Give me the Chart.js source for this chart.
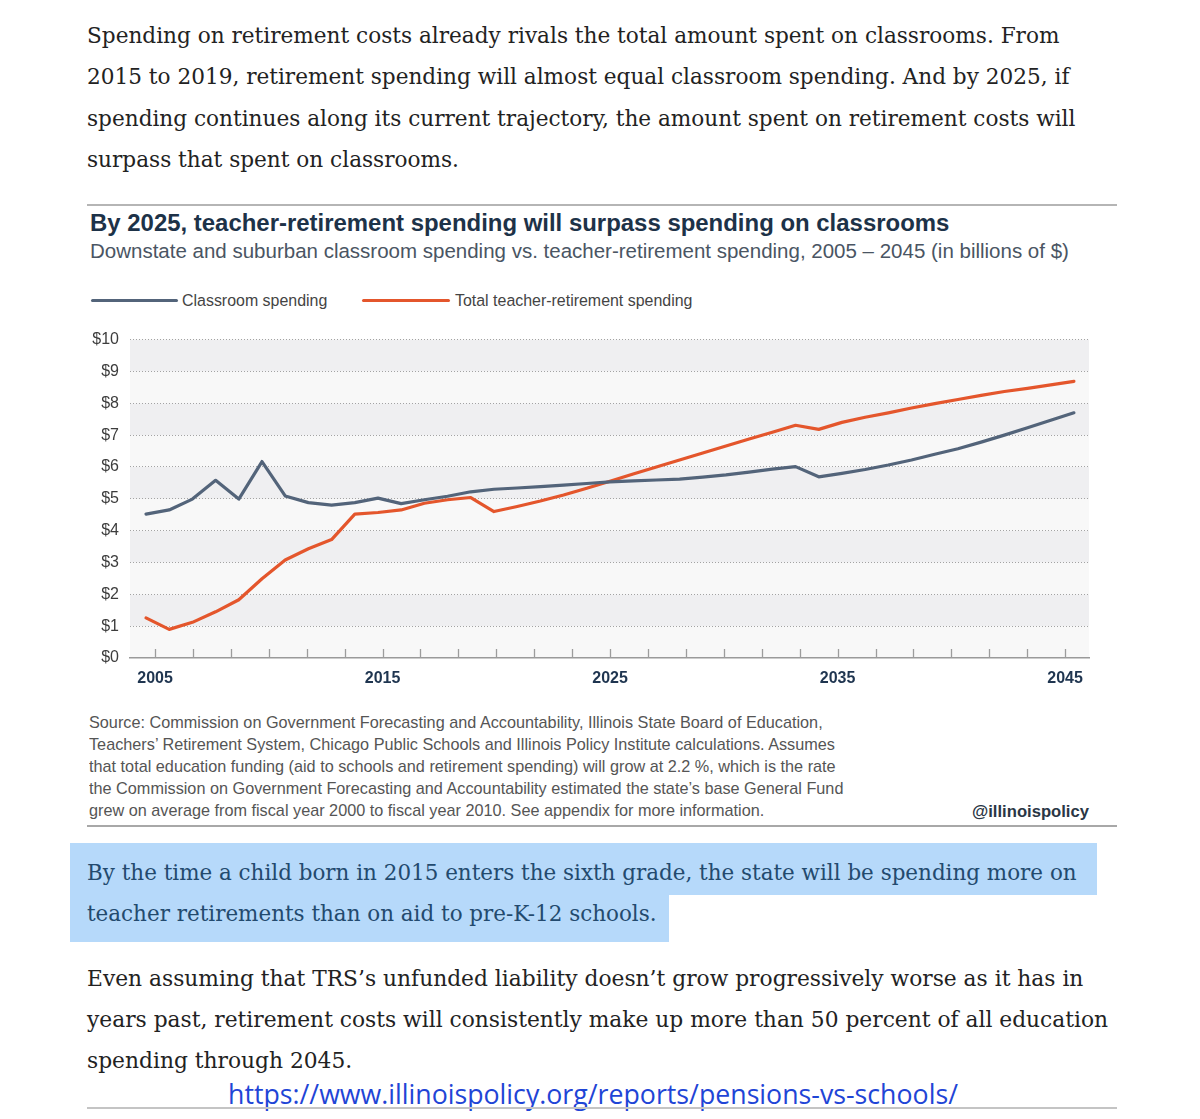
<!DOCTYPE html>
<html><head><meta charset="utf-8">
<script src="https://cdn.jsdelivr.net/npm/chart.js@4.4.0/dist/chart.umd.min.js"></script>
<style>
html,body{margin:0;padding:0;background:#fff;}
body{width:1200px;height:1119px;overflow:hidden;position:relative;}
.t{position:absolute;white-space:nowrap;display:inline-block;font-kerning:normal;}
.serif{font-family:"DejaVu Serif",serif;color:#222;font-size:20px;line-height:40px;height:40px;}
.hl{color:#234a6e;}
.sans{font-family:"Liberation Sans",Arial,sans-serif;}
.rule{position:absolute;left:87px;width:1030px;background:#b5b5b5;}
.box{position:absolute;background:#b6d9fa;}
.swatch{position:absolute;height:3px;border-radius:1.5px;}
</style></head><body>

<div class="t serif fit" data-g="p1" data-w="979" style="left:87px;top:16px">Spending on retirement costs already rivals the total amount spent on classrooms. From</div>
<div class="t serif fit" data-g="p1" data-w="962" style="left:87px;top:57px">2015 to 2019, retirement spending will almost equal classroom spending. And by 2025, if</div>
<div class="t serif fit" data-g="p1" data-w="1000" style="left:87px;top:99px">spending continues along its current trajectory, the amount spent on retirement costs will</div>
<div class="t serif fit" data-g="p1" data-w="376" style="left:87px;top:140px">surpass that spent on classrooms.</div>

<div class="rule" style="top:204px;height:1.5px;"></div>

<div class="t sans fit" data-g="title" data-w="860" style="left:90px;top:209px;line-height:28px;height:28px;font-size:22px;font-weight:bold;color:#1d3248;">By 2025, teacher-retirement spending will surpass spending on classrooms</div>
<div class="t sans fit" data-g="sub" data-w="979" style="left:90px;top:238px;line-height:26px;height:26px;font-size:20px;color:#4a5563;">Downstate and suburban classroom spending vs. teacher-retirement spending, 2005 – 2045 (in billions of $)</div>

<div class="swatch" style="left:91px;width:87px;top:299px;background:#53647a;"></div>
<div class="t sans fit" data-g="leg" data-w="146" style="left:182px;top:291px;line-height:20px;height:20px;font-size:15px;color:#444;">Classroom spending</div>
<div class="swatch" style="left:362px;width:88px;top:299px;background:#e4562c;"></div>
<div class="t sans fit" data-g="leg" data-w="237" style="left:455px;top:291px;line-height:20px;height:20px;font-size:15px;color:#444;">Total teacher-retirement spending</div>

<canvas id="c" width="1020" height="376" style="position:absolute;left:80px;top:319px;"></canvas>

<div class="t sans fit" data-g="src" data-m="scale" data-w="730" style="left:89px;top:712px;line-height:22px;height:22px;font-size:17px;color:#555;transform-origin:0 50%;">Source: Commission on Government Forecasting and Accountability, Illinois State Board of Education,</div>
<div class="t sans fit" data-g="src" data-m="scale" data-w="740" style="left:89px;top:734px;line-height:22px;height:22px;font-size:17px;color:#555;transform-origin:0 50%;">Teachers’ Retirement System, Chicago Public Schools and Illinois Policy Institute calculations. Assumes</div>
<div class="t sans fit" data-g="src" data-m="scale" data-w="750" style="left:89px;top:756px;line-height:22px;height:22px;font-size:17px;color:#555;transform-origin:0 50%;">that total education funding (aid to schools and retirement spending) will grow at 2.2 %, which is the rate</div>
<div class="t sans fit" data-g="src" data-m="scale" data-w="755" style="left:89px;top:778px;line-height:22px;height:22px;font-size:17px;color:#555;transform-origin:0 50%;">the Commission on Government Forecasting and Accountability estimated the state’s base General Fund</div>
<div class="t sans fit" data-g="src" data-m="scale" data-w="681" style="left:89px;top:800px;line-height:22px;height:22px;font-size:17px;color:#555;transform-origin:0 50%;">grew on average from fiscal year 2000 to fiscal year 2010. See appendix for more information.</div>
<div class="t sans fit" data-g="handle" data-m="scale" data-w="117" style="left:972px;top:801px;line-height:22px;height:22px;font-size:17px;font-weight:bold;color:#2a3645;transform-origin:0 50%;">@illinoispolicy</div>

<div class="rule" style="top:825px;height:2px;background:#a8a8a8;"></div>

<div class="box" style="left:70px;top:843px;width:1027px;height:52px;"></div>
<div class="box" style="left:70px;top:895px;width:599px;height:47px;"></div>
<div class="t serif hl fit" data-g="hl" data-w="988" style="left:87px;top:853px">By the time a child born in 2015 enters the sixth grade, the state will be spending more on</div>
<div class="t serif hl fit" data-g="hl" data-w="572" style="left:87px;top:894px">teacher retirements than on aid to pre-K-12 schools.</div>

<div class="t serif fit" data-g="p3" data-w="988" style="left:87px;top:959px">Even assuming that TRS’s unfunded liability doesn’t grow progressively worse as it has in</div>
<div class="t serif fit" data-g="p3" data-w="1020" style="left:87px;top:1000px">years past, retirement costs will consistently make up more than 50 percent of all education</div>
<div class="t serif fit" data-g="p3" data-w="277" style="left:87px;top:1041px">spending through 2045.</div>

<div class="t fit" data-g="link" data-w="730" style="left:228px;top:1079px;line-height:30px;height:30px;font-family:'Open Sans','Noto Sans',sans-serif;font-size:24px;color:#1f45d6;">https://www.illinoispolicy.org/reports/pensions-vs-schools/</div>
<div class="rule" style="top:1107px;height:2px;background:#c4c4c4;"></div>

<script>
// ---- data (billions of $) ----
const years = [2005,2006,2007,2008,2009,2010,2011,2012,2013,2014,2015,2016,2017,2018,2019,2020,2021,2022,2023,2024,2025,2026,2027,2028,2029,2030,2031,2032,2033,2034,2035,2036,2037,2038,2039,2040,2041,2042,2043,2044,2045];
const classroomSpending = [4.52,4.65,4.99,5.58,4.99,6.17,5.09,4.88,4.80,4.88,5.02,4.85,4.97,5.08,5.22,5.30,5.34,5.38,5.43,5.48,5.53,5.56,5.59,5.62,5.68,5.75,5.84,5.93,6.01,5.69,5.80,5.92,6.06,6.22,6.40,6.57,6.78,7.00,7.23,7.47,7.70];
const retirementSpending = [1.26,0.90,1.12,1.45,1.83,2.49,3.08,3.43,3.72,4.52,4.57,4.65,4.86,4.97,5.04,4.60,4.76,4.93,5.12,5.33,5.55,5.78,6.00,6.22,6.44,6.66,6.88,7.09,7.31,7.18,7.40,7.56,7.70,7.85,7.99,8.12,8.25,8.37,8.47,8.58,8.69];
const seriesNames = ['Classroom spending','Total teacher-retirement spending'];
const yearLabels = ['2005','2015','2025','2035','2045'];
const yMin = 0, yMax = 10;

// ---- fit text blocks ----
(function(){
  const groups = {};
  document.querySelectorAll('.fit').forEach(el=>{
    const g = el.dataset.g; (groups[g] = groups[g] || []).push(el);
  });
  Object.values(groups).forEach(list=>{
    let tw=0, nw=0;
    list.forEach(el=>{ tw += +el.dataset.w; nw += el.getBoundingClientRect().width; });
    const r = tw/nw;
    list.forEach(el=>{
      if (el.dataset.m==='scale') el.style.transform = 'scaleX('+r+')';
      else { const fs = parseFloat(getComputedStyle(el).fontSize); el.style.fontSize = (fs*r)+'px'; }
    });
  });
})();

// ---- plugins ----
const bands = {
  id:'bands',
  beforeDraw(chart){
    const {ctx, chartArea:a, scales:{y}} = chart;
    ctx.save();
    y.ticks.forEach((t,i)=>{
      if (i===y.ticks.length-1) return;
      const b = y.getPixelForValue(t.value), top = y.getPixelForValue(y.ticks[i+1].value);
      ctx.fillStyle = (Math.round(t.value)%2===1) ? '#efeff1' : '#f8f8f8';
      ctx.fillRect(a.left, top, a.right-a.left, b-top);
    });
    ctx.restore();
  }
};
const innerTicks = {
  id:'innerTicks',
  beforeDatasetsDraw(chart){
    const {ctx, chartArea:a, scales:{xl}} = chart;
    ctx.save();
    ctx.strokeStyle = '#9c9c9c'; ctx.lineWidth = 1.3;
    xl.ticks.forEach(t=>{
      const x = Math.round(xl.getPixelForValue(t.value))+0.5;
      ctx.beginPath(); ctx.moveTo(x, a.bottom-9); ctx.lineTo(x, a.bottom); ctx.stroke();
    });
    ctx.restore();
  }
};

const firstYear = years[0], lastYear = years[years.length-1];
new Chart(document.getElementById('c'), {
  type:'line',
  data:{
    datasets:[
      {label:seriesNames[0], data:years.map((yr,i)=>({x:yr,y:classroomSpending[i]})), borderColor:'#53647a', borderWidth:3.2, pointRadius:0, tension:0, xAxisID:'x', yAxisID:'y', borderJoinStyle:'round', borderCapStyle:'round'},
      {label:seriesNames[1], data:years.map((yr,i)=>({x:yr,y:retirementSpending[i]})), borderColor:'#e4562c', borderWidth:3.2, pointRadius:0, tension:0, xAxisID:'x', yAxisID:'y', borderJoinStyle:'round', borderCapStyle:'round'}
    ]
  },
  options:{
    responsive:false, animation:false,
    layout:{padding:{left:0,right:11,top:7,bottom:7}},
    plugins:{legend:{display:false}, tooltip:{enabled:false}},
    scales:{
      x:{type:'linear', display:false, min:firstYear-0.69, max:lastYear+0.65},
      xl:{type:'linear', position:'bottom', min:firstYear-1.10, max:lastYear+1.05,
        afterBuildTicks(s){ const tk=[]; for(let k=0;k<=24;k++){ tk.push({value:firstYear+k*(lastYear-firstYear)/24}); } s.ticks=tk; },
        afterFit(s){ s.height = 30; },
        grid:{display:false, drawTicks:false},
        border:{display:true, color:'#9a9a9a', width:1.5},
        ticks:{autoSkip:false, maxRotation:0, padding:11, color:'#1f3550', font:{family:'Liberation Sans', size:16, weight:'bold'},
          callback(v){ const s = String(Math.round(v)); return (Math.abs(v-Math.round(v))<1e-6 && yearLabels.includes(s)) ? s : ''; }}
      },
      y:{min:yMin, max:yMax,
        afterFit(s){ s.width = 50; },
        ticks:{stepSize:1, padding:11, color:'#3d3d3d', font:{family:'Liberation Sans', size:16}, callback:v=>'$'+v},
        grid:{drawTicks:false, lineWidth:1, color:ctx=> (ctx.tick && ctx.tick.value===0) ? 'rgba(0,0,0,0)' : '#a3a3a3'},
        border:{display:false, dash:[1,2]}
      }
    }
  },
  plugins:[bands, innerTicks]
});
</script>
</body></html>
